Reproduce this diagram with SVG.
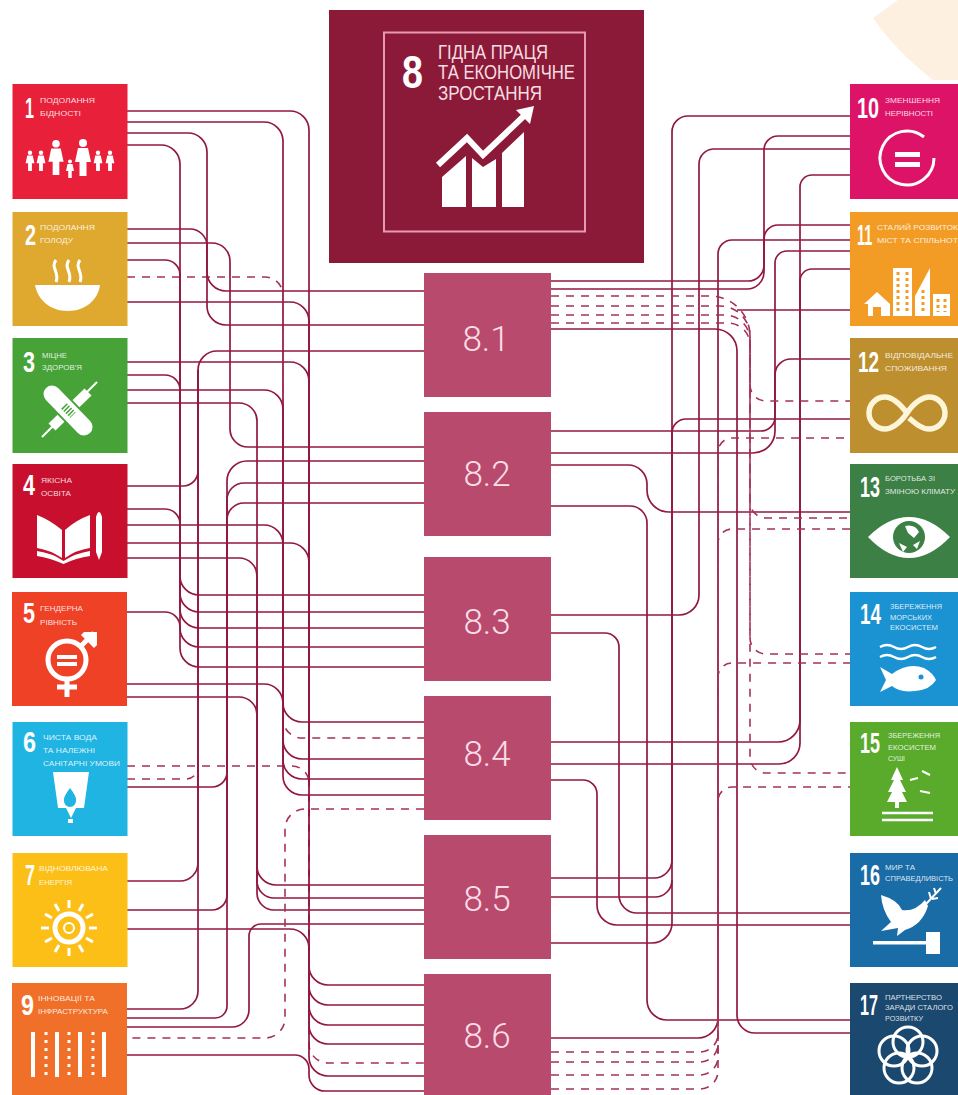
<svg xmlns="http://www.w3.org/2000/svg" xmlns:xlink="http://www.w3.org/1999/xlink" width="958" height="1095" viewBox="0 0 958 1095">
<style>
.s{fill:none;stroke:#92183f;stroke-width:1.700}
.d{fill:none;stroke:#a5315a;stroke-width:1.600;stroke-dasharray:8 7}
.n{font-family:"Liberation Sans",sans-serif;font-weight:700;font-size:30px;fill:#fff}
.t{font-family:"Liberation Sans",sans-serif;font-size:8px;fill:#fff;fill-opacity:.85}
.h{font-family:"Liberation Sans",sans-serif;font-size:20px;fill:#f7dde2}
.b{font-family:Roboto,"Liberation Sans",sans-serif;font-weight:300;font-size:35px;fill:#fbdde5;text-anchor:middle}
.w{fill:#fff}
.o{fill:none;stroke:#fff}
.box{fill:#b84a6d}
</style>
<defs>
<g id="pn"><circle cx="0" cy="-15" r="4"/><path d="M-5-10H5L8 4H3.500V18H-3.500V4H-8Z"/></g>
</defs>
<path d="M873 18L898 0H958V80H933Q895 50 873 18Z" fill="#fdf0e0"/>
<g id="connectors">
<path class="s" d="M127 111H290A19 19 0 0 1 309 130V966A19 19 0 0 0 328 985H424"/>
<path class="s" d="M127 302H290A19 19 0 0 1 309 321V986A19 19 0 0 0 328 1005H424"/>
<path class="s" d="M127 362H290A19 19 0 0 1 309 381V1006A19 19 0 0 0 328 1025H424"/>
<path class="s" d="M127 543H290A19 19 0 0 1 309 562V1025A19 19 0 0 0 328 1044H424"/>
<path class="d" d="M127 766H292A17 17 0 0 1 309 783V1044A19 19 0 0 0 328 1063H424"/>
<path class="s" d="M127 929H290A19 19 0 0 1 309 948V1057A19 19 0 0 0 328 1076H424"/>
<path class="s" d="M127 1055H295A14 14 0 0 1 309 1069V1075A16 16 0 0 0 325 1091H424"/>
<path class="s" d="M127 122H264A19 19 0 0 1 283 141V703A19 19 0 0 0 302 722H424"/>
<path class="d" d="M127 277H265A18 18 0 0 1 283 295V719A19 19 0 0 0 302 738H424"/>
<path class="s" d="M127 390H264A19 19 0 0 1 283 409V740A19 19 0 0 0 302 759H424"/>
<path class="s" d="M127 525H264A19 19 0 0 1 283 544V760A19 19 0 0 0 302 779H424"/>
<path class="s" d="M127 684H264A19 19 0 0 1 283 703V776A19 19 0 0 0 302 795H424"/>
<path class="s" d="M127 133H188A19 19 0 0 1 207 152V306A19 19 0 0 0 226 325H424"/>
<path class="s" d="M127 229H190A17 17 0 0 1 207 246V272A19 19 0 0 0 226 291H424"/>
<path class="s" d="M127 243H212A18 18 0 0 1 230 261V429A18 18 0 0 0 248 447H424"/>
<path class="s" d="M127 145H161A19 19 0 0 1 180 164V576A19 19 0 0 0 199 595H424"/>
<path class="s" d="M127 260H165A15 15 0 0 1 180 275V593A19 19 0 0 0 199 612H424"/>
<path class="s" d="M127 375H165A15 15 0 0 1 180 390V609A19 19 0 0 0 199 628H424"/>
<path class="s" d="M127 509H165A15 15 0 0 1 180 524V628A19 19 0 0 0 199 647H424"/>
<path class="s" d="M127 612H165A15 15 0 0 1 180 627V648A19 19 0 0 0 199 667H424"/>
<path class="s" d="M127 486H183A15 15 0 0 0 198 471V370A19 19 0 0 1 217 351H424"/>
<path class="d" d="M127 779H186A12 12 0 0 0 198 767"/>
<path class="s" d="M127 881H180A18 18 0 0 0 198 863V370"/>
<path class="s" d="M127 1009H180A18 18 0 0 0 198 991V370"/>
<path class="s" d="M127 787H212A15 15 0 0 0 227 772V481A20 20 0 0 1 247 461H424"/>
<path class="s" d="M127 910H212A15 15 0 0 0 227 895V500A17 17 0 0 1 244 483H424"/>
<path class="s" d="M127 1018H215A12 12 0 0 0 227 1006V520A17 17 0 0 1 244 503H424"/>
<path class="s" d="M127 403H239A18 18 0 0 1 257 421V866A19 19 0 0 0 276 885H424"/>
<path class="s" d="M127 558H239A18 18 0 0 1 257 576V881A17 17 0 0 0 274 898H424"/>
<path class="s" d="M127 697H239A18 18 0 0 1 257 715V893A17 17 0 0 0 274 910H424"/>
<path class="s" d="M127 1027H232A17 17 0 0 0 249 1010V936A12 12 0 0 1 261 924H424"/>
<path class="d" d="M424 809H305A20 20 0 0 0 285 829V1018A20 20 0 0 1 265 1038H127"/>
<path class="s" d="M850 116H688A16 16 0 0 0 672 132V860A18 18 0 0 1 654 878H551"/>
<path class="s" d="M850 419H686A14 14 0 0 0 672 433V880A17 17 0 0 1 655 897H551"/>
<path class="s" d="M551 943H652A20 20 0 0 0 672 923V880"/>
<path class="s" d="M850 136H778A14 14 0 0 0 764 150V272A17 17 0 0 1 747 289H551"/>
<path class="s" d="M850 225H778A14 14 0 0 0 764 239V265A16 16 0 0 1 748 281H551"/>
<path class="s" d="M850 149H713A15 15 0 0 0 699 164V595A20 20 0 0 1 679 615H551"/>
<path class="s" d="M850 175H812A12 12 0 0 0 800 187V720A22 22 0 0 1 778 742H551"/>
<path class="s" d="M850 269H812A12 12 0 0 0 800 281V743A21 21 0 0 1 779 764H551"/>
<path class="s" d="M850 240H732A14 14 0 0 0 718 254V1018A20 20 0 0 1 698 1038H551"/>
<path class="s" d="M850 359H791A16 16 0 0 0 775 375V417A14 14 0 0 1 761 431H551"/>
<path class="s" d="M850 251H787A12 12 0 0 0 775 263V431A22 22 0 0 1 753 453H551"/>
<path class="s" d="M850 512H669A22 22 0 0 1 647 490V484A19 19 0 0 0 628 465H551"/>
<path class="s" d="M551 506H630A17 17 0 0 1 647 523V1000A20 20 0 0 0 667 1020H850"/>
<path class="s" d="M551 329H715A22 22 0 0 1 737 351V1015A18 18 0 0 0 755 1033H850"/>
<path class="s" d="M551 633H605A14 14 0 0 1 619 647V895A18 18 0 0 0 637 913H850"/>
<path class="s" d="M551 780H583A14 14 0 0 1 597 794V905A20 20 0 0 0 617 925H850"/>
<path class="s" d="M850 310H737"/>
<path class="d" d="M551 296H710A40 40 0 0 1 750 336V385A16 16 0 0 0 766 401H850"/>
<path class="d" d="M551 306H720A30 30 0 0 1 750 336V502A16 16 0 0 0 766 518H850"/>
<path class="d" d="M551 315H725A25 25 0 0 1 750 340V638A16 16 0 0 0 766 654H850"/>
<path class="d" d="M551 323H728A22 22 0 0 1 750 345V757A16 16 0 0 0 766 773H850"/>
<path class="d" d="M551 1052H700A18 18 0 0 0 718 1034V452A14 14 0 0 1 732 438H850"/>
<path class="d" d="M551 1062H700A18 18 0 0 0 718 1044V543A14 14 0 0 1 732 529H850"/>
<path class="d" d="M551 1075H700A18 18 0 0 0 718 1057V677A14 14 0 0 1 732 663H850"/>
<path class="d" d="M551 1089H700A18 18 0 0 0 718 1071V801A14 14 0 0 1 732 787H850"/>
</g>
<g id="goal-8">
<rect x="329" y="10" width="315" height="253" fill="#8b1a38"/>
<rect x="384" y="32.500" width="201" height="199" fill="none" stroke="#e59ab0" stroke-width="2"/>
<text transform="translate(402 88) scale(.8 1)" font-family="Liberation Sans,sans-serif" font-weight="700" font-size="47" fill="#fff">8</text>
<text class="h" x="438" y="59" textLength="110" lengthAdjust="spacingAndGlyphs">ГІДНА ПРАЦЯ</text>
<text class="h" x="438" y="79" textLength="137" lengthAdjust="spacingAndGlyphs">ТА ЕКОНОМІЧНЕ</text>
<text class="h" x="438" y="100" textLength="104" lengthAdjust="spacingAndGlyphs">ЗРОСТАННЯ</text>
<path class="w" d="M442 177L466 156V207H442ZM472 158L483 167L496 159V207H472ZM502 153L524 132V207H502Z"/>
<path class="o" stroke-width="6" d="M438 165L467 138L483 155L526 114"/>
<path class="w" d="M534 106L530 124L516 110Z"/>
</g>
<g id="target-8-1"><rect class="box" x="424" y="273" width="127" height="124"/><text class="b" x="486" y="351">8.1</text></g>
<g id="target-8-2"><rect class="box" x="424" y="412" width="127" height="124"/><text class="b" x="487" y="486">8.2</text></g>
<g id="target-8-3"><rect class="box" x="424" y="557" width="127" height="124"/><text class="b" x="487" y="634">8.3</text></g>
<g id="target-8-4"><rect class="box" x="424" y="696" width="127" height="124"/><text class="b" x="487" y="766">8.4</text></g>
<g id="target-8-5"><rect class="box" x="424" y="835" width="127" height="124"/><text class="b" x="487" y="911">8.5</text></g>
<g id="target-8-6"><rect class="box" x="424" y="974" width="127" height="121"/><text class="b" x="487" y="1048">8.6</text></g>

<g id="goal-1"><rect x="12.500" y="84" width="115" height="115" fill="#e8203a"/>
<text class="n" transform="translate(25 118) scale(.54 1)">1</text>
<text class="t" x="40" y="103" textLength="55" lengthAdjust="spacingAndGlyphs">ПОДОЛАННЯ</text>
<text class="t" x="40" y="116" textLength="41" lengthAdjust="spacingAndGlyphs">БІДНОСТІ</text>
<g class="w"><use xlink:href="#pn" transform="translate(30 161) scale(.55)"/><use xlink:href="#pn" transform="translate(41 161) scale(.55)"/><use xlink:href="#pn" transform="translate(56 158) scale(.95)"/><use xlink:href="#pn" transform="translate(70 169) scale(.5)"/><use xlink:href="#pn" transform="translate(83 158) scale(1)"/><use xlink:href="#pn" transform="translate(98 161) scale(.55)"/><use xlink:href="#pn" transform="translate(110 161) scale(.55)"/></g></g>

<g id="goal-2"><rect x="12.500" y="212" width="115" height="114" fill="#dfa92f"/>
<text class="n" transform="translate(25 245) scale(.66 1)">2</text>
<text class="t" x="40" y="230" textLength="55" lengthAdjust="spacingAndGlyphs">ПОДОЛАННЯ</text>
<text class="t" x="40" y="243" textLength="33" lengthAdjust="spacingAndGlyphs">ГОЛОДУ</text>
<path class="w" d="M35 285H100C98 300 85 311 68 311C50 311 38 300 35 285Z"/>
<path class="o" stroke-width="3" d="M56 260C50 268 60 272 56 282M69 260C63 268 73 272 69 282M80 260C74 268 84 272 80 282"/></g>

<g id="goal-3"><rect x="12.500" y="338" width="115" height="115" fill="#47a338"/>
<text class="n" transform="translate(23 372) scale(.72 1)">3</text>
<text class="t" x="42" y="358" textLength="25" lengthAdjust="spacingAndGlyphs">МІЦНЕ</text>
<text class="t" x="42" y="370" textLength="40" lengthAdjust="spacingAndGlyphs">ЗДОРОВ'Я</text>
<path class="o" stroke-width="2" d="M42 437L54 425M87 392L97 382"/>
<path class="o" stroke-width="10" d="M52 427L88 392"/>
<path stroke="#47a338" stroke-width="21" stroke-linecap="round" d="M52 394L84 427"/>
<path stroke="#fff" stroke-width="17" stroke-linecap="round" d="M52 394L84 427"/>
<path stroke="#47a338" stroke-width="8" stroke-dasharray="1.500 1.500" d="M64 406L73 415"/></g>

<g id="goal-4"><rect x="12.500" y="464" width="115" height="114" fill="#c8102e"/>
<text class="n" transform="translate(23 495) scale(.72 1)">4</text>
<text class="t" x="41" y="483" textLength="31" lengthAdjust="spacingAndGlyphs">ЯКІСНА</text>
<text class="t" x="41" y="496" textLength="30" lengthAdjust="spacingAndGlyphs">ОСВІТА</text>
<path class="w" d="M37 515Q50 520 62 530V558Q50 550 37 548ZM90 515Q76 520 65 530V558Q76 550 90 548ZM37 551Q52 553 63.500 561Q76 553 90 551V556Q76 558 63.500 564Q50 558 37 556Z"/>
<path class="w" d="M96 517Q99 507 102 517V552L99 560L96 552Z"/></g>

<g id="goal-5"><rect x="12" y="592" width="115" height="114" fill="#ee4126"/>
<text class="n" transform="translate(23 623) scale(.72 1)">5</text>
<text class="t" x="40" y="611" textLength="43" lengthAdjust="spacingAndGlyphs">ГЕНДЕРНА</text>
<text class="t" x="40" y="625" textLength="37" lengthAdjust="spacingAndGlyphs">РІВНІСТЬ</text>
<circle class="o" cx="67" cy="660" r="19" stroke-width="5"/>
<path class="o" stroke-width="5" d="M81 646L94 633M67 680V697M57 687H77"/>
<path class="w" d="M84 632H97V645L94 648L81 635Z"/>
<rect class="w" x="57" y="655" width="20" height="4"/><rect class="w" x="57" y="662" width="20" height="4"/></g>

<g id="goal-6"><rect x="12.500" y="722" width="115" height="114" fill="#1fb4e2"/>
<text class="n" transform="translate(23 752) scale(.78 1)">6</text>
<text class="t" x="43" y="740" textLength="54" lengthAdjust="spacingAndGlyphs">ЧИСТА ВОДА</text>
<text class="t" x="43" y="753" textLength="52" lengthAdjust="spacingAndGlyphs">ТА НАЛЕЖНІ</text>
<text class="t" x="43" y="766" textLength="77" lengthAdjust="spacingAndGlyphs">САНІТАРНІ УМОВИ</text>
<path class="w" d="M53 772H89L84 808H76L71 818L66 808H58Z"/><path d="M70 788Q77 797 76 801A6 6 0 0 1 64 801Q63 797 70 788Z" fill="#1fb4e2"/><rect class="w" x="68" y="819" width="5" height="4"/></g>

<g id="goal-7"><rect x="12.500" y="853" width="115" height="114" fill="#fbbf17"/>
<text class="n" transform="translate(25 885) scale(.6 1)">7</text>
<text class="t" x="39" y="871" textLength="69" lengthAdjust="spacingAndGlyphs">ВІДНОВЛЮВАНА</text>
<text class="t" x="39" y="885" textLength="33" lengthAdjust="spacingAndGlyphs">ЕНЕРГІЯ</text>
<circle class="o" cx="69" cy="928" r="14" stroke-width="5"/>
<circle class="o" cx="69" cy="928" r="5" stroke-width="2"/>
<path class="o" stroke-width="3" d="M69 900V908M69 948V956M41 928H49M89 928H97M55 904L59 911M83 904L79 911M55 952L59 945M83 952L79 945M45 914L52 918M93 914L86 918M45 942L52 938M93 942L86 938"/></g>

<g id="goal-9"><rect x="12" y="983" width="115" height="112" fill="#f0702a"/>
<text class="n" transform="translate(21 1015) scale(.78 1)">9</text>
<text class="t" x="38" y="1001" textLength="57" lengthAdjust="spacingAndGlyphs">ІННОВАЦІЇ ТА</text>
<text class="t" x="38" y="1014" textLength="70" lengthAdjust="spacingAndGlyphs">ІНФРАСТРУКТУРА</text>
<path class="o" stroke-width="4" d="M33 1032V1077M57 1032V1077M80 1032V1077M104 1032V1077"/>
<path class="o" stroke-width="3" stroke-dasharray="3 5" d="M46 1032V1077M69 1032V1077M93 1032V1077"/></g>

<g id="goal-10"><rect x="850" y="84" width="108" height="115" fill="#dd1367"/>
<text class="n" transform="translate(857 118) scale(.66 1)">10</text>
<text class="t" x="885" y="103" textLength="55" lengthAdjust="spacingAndGlyphs">ЗМЕНШЕННЯ</text>
<text class="t" x="885" y="116" textLength="48" lengthAdjust="spacingAndGlyphs">НЕРІВНОСТІ</text>
<path class="o" stroke-width="3" d="M924 137A27 27 0 1 0 934 158"/>
<rect class="w" x="895" y="152" width="25" height="5"/><rect class="w" x="895" y="162" width="25" height="5"/></g>

<g id="goal-11"><rect x="850" y="212" width="108" height="114" fill="#f39c25"/>
<text class="n" transform="translate(857 245) scale(.48 1)">11</text>
<text class="t" x="877" y="230" textLength="81" lengthAdjust="spacingAndGlyphs">СТАЛИЙ РОЗВИТОК</text>
<text class="t" x="877" y="243" textLength="81" lengthAdjust="spacingAndGlyphs">МІСТ ТА СПІЛЬНОТ</text>
<path class="w" d="M864 304L877 292L890 304V316H881V307H873V316H868V304Z"/>
<path class="w" d="M893 268H912V316H893ZM915 316V296L930 268V316ZM933 294H950V316H933Z"/>
<path stroke="#f39c25" stroke-width="3" stroke-dasharray="3 3" d="M898 272V312M907 272V312M923 290V312M938 299V312M945 299V312"/></g>

<g id="goal-12"><rect x="850" y="338" width="108" height="115" fill="#bd8f2f"/>
<text class="n" transform="translate(858 372) scale(.63 1)">12</text>
<text class="t" x="885" y="358" textLength="68" lengthAdjust="spacingAndGlyphs">ВІДПОВІДАЛЬНЕ</text>
<text class="t" x="885" y="371" textLength="62" lengthAdjust="spacingAndGlyphs">СПОЖИВАННЯ</text>
<path fill="none" stroke="#fdf5d8" stroke-width="5.500" d="M907 413C897 400 890 397 885 397A16 16 0 0 0 885 429C890 429 899 425 907 413C915 401 924 397 929 397A16 16 0 0 1 929 429C922 429 916 424 909 418"/></g>

<g id="goal-13"><rect x="850" y="464" width="108" height="114" fill="#3c8045"/>
<text class="n" transform="translate(860 497) scale(.6 1)">13</text>
<text class="t" x="885" y="481" textLength="50" lengthAdjust="spacingAndGlyphs">БОРОТЬБА ЗІ</text>
<text class="t" x="885" y="494" textLength="70" lengthAdjust="spacingAndGlyphs">ЗМІНОЮ КЛІМАТУ</text>
<path class="w" d="M868 537Q888 517 909 517Q930 517 950 537Q930 558 909 558Q888 558 868 537Z"/>
<circle cx="909" cy="537" r="16" fill="#3c8045"/>
<path class="w" d="M905 526Q915 524 919 532L914 538L908 533ZM899 543L907 547L903 552ZM913 545L920 541L917 549Z"/></g>

<g id="goal-14"><rect x="850" y="592" width="108" height="114" fill="#1b92d2"/>
<text class="n" transform="translate(860 624) scale(.63 1)">14</text>
<text class="t" x="890" y="609" textLength="52" lengthAdjust="spacingAndGlyphs">ЗБЕРЕЖЕННЯ</text>
<text class="t" x="890" y="620" textLength="42" lengthAdjust="spacingAndGlyphs">МОРСЬКИХ</text>
<text class="t" x="890" y="630" textLength="48" lengthAdjust="spacingAndGlyphs">ЕКОСИСТЕМ</text>
<path class="o" stroke-width="2.500" d="M880 647Q887 643 894 647T908 647T922 647T936 647M880 657Q887 653 894 657T908 657T922 657T936 657"/>
<path class="w" d="M880 667L892 674Q908 662 924 668Q933 673 936 680Q930 690 915 691Q900 693 892 686L880 692L886 680Z"/>
<circle cx="921" cy="677" r="2.500" fill="#1b92d2"/></g>

<g id="goal-15"><rect x="850" y="722" width="108" height="114" fill="#5aab2c"/>
<text class="n" transform="translate(860 753) scale(.6 1)">15</text>
<text class="t" x="888" y="738" textLength="52" lengthAdjust="spacingAndGlyphs">ЗБЕРЕЖЕННЯ</text>
<text class="t" x="888" y="750" textLength="48" lengthAdjust="spacingAndGlyphs">ЕКОСИСТЕМ</text>
<text class="t" x="888" y="761" textLength="17" lengthAdjust="spacingAndGlyphs">СУШІ</text>
<path class="w" d="M897 767L903 780L900 780L906 792L902 792L907 802H899V808H895V802H887L892 792L888 792L894 780L891 780Z"/>
<path class="o" stroke-width="2" d="M910 780L918 778M922 771L930 775M920 791L930 793"/>
<path class="o" stroke-width="2.500" d="M882 813H933M882 820H933"/></g>

<g id="goal-16"><rect x="850" y="853" width="108" height="114" fill="#1a6ca6"/>
<text class="n" transform="translate(860 885) scale(.6 1)">16</text>
<text class="t" x="885" y="870" textLength="30" lengthAdjust="spacingAndGlyphs">МИР ТА</text>
<text class="t" x="885" y="881" textLength="68" lengthAdjust="spacingAndGlyphs">СПРАВЕДЛИВІСТЬ</text>
<path class="w" d="M881 895Q898 900 902 910Q915 912 925 900L928 906Q922 925 905 930L897 936L898 928L881 931L891 922Q882 910 881 895Z"/>
<path class="o" stroke-width="2" d="M926 904L941 888M931 899L929 892M936 894L934 888M932 899L938 898"/>
<rect class="w" x="873" y="941" width="57" height="3.500"/><rect class="w" x="926" y="932" width="14" height="22"/></g>

<g id="goal-17"><rect x="850" y="983" width="108" height="112" fill="#1a486f"/>
<text class="n" transform="translate(860 1015) scale(.54 1)">17</text>
<text class="t" x="885" y="1000" textLength="57" lengthAdjust="spacingAndGlyphs">ПАРТНЕРСТВО</text>
<text class="t" x="885" y="1010" textLength="68" lengthAdjust="spacingAndGlyphs">ЗАРАДИ СТАЛОГО</text>
<text class="t" x="885" y="1021" textLength="38" lengthAdjust="spacingAndGlyphs">РОЗВИТКУ</text>
<g class="o" stroke-width="3"><circle cx="908" cy="1042" r="15"/><circle cx="894" cy="1051" r="15"/><circle cx="922" cy="1051" r="15"/><circle cx="899" cy="1068" r="15"/><circle cx="917" cy="1068" r="15"/></g></g>
</svg>
